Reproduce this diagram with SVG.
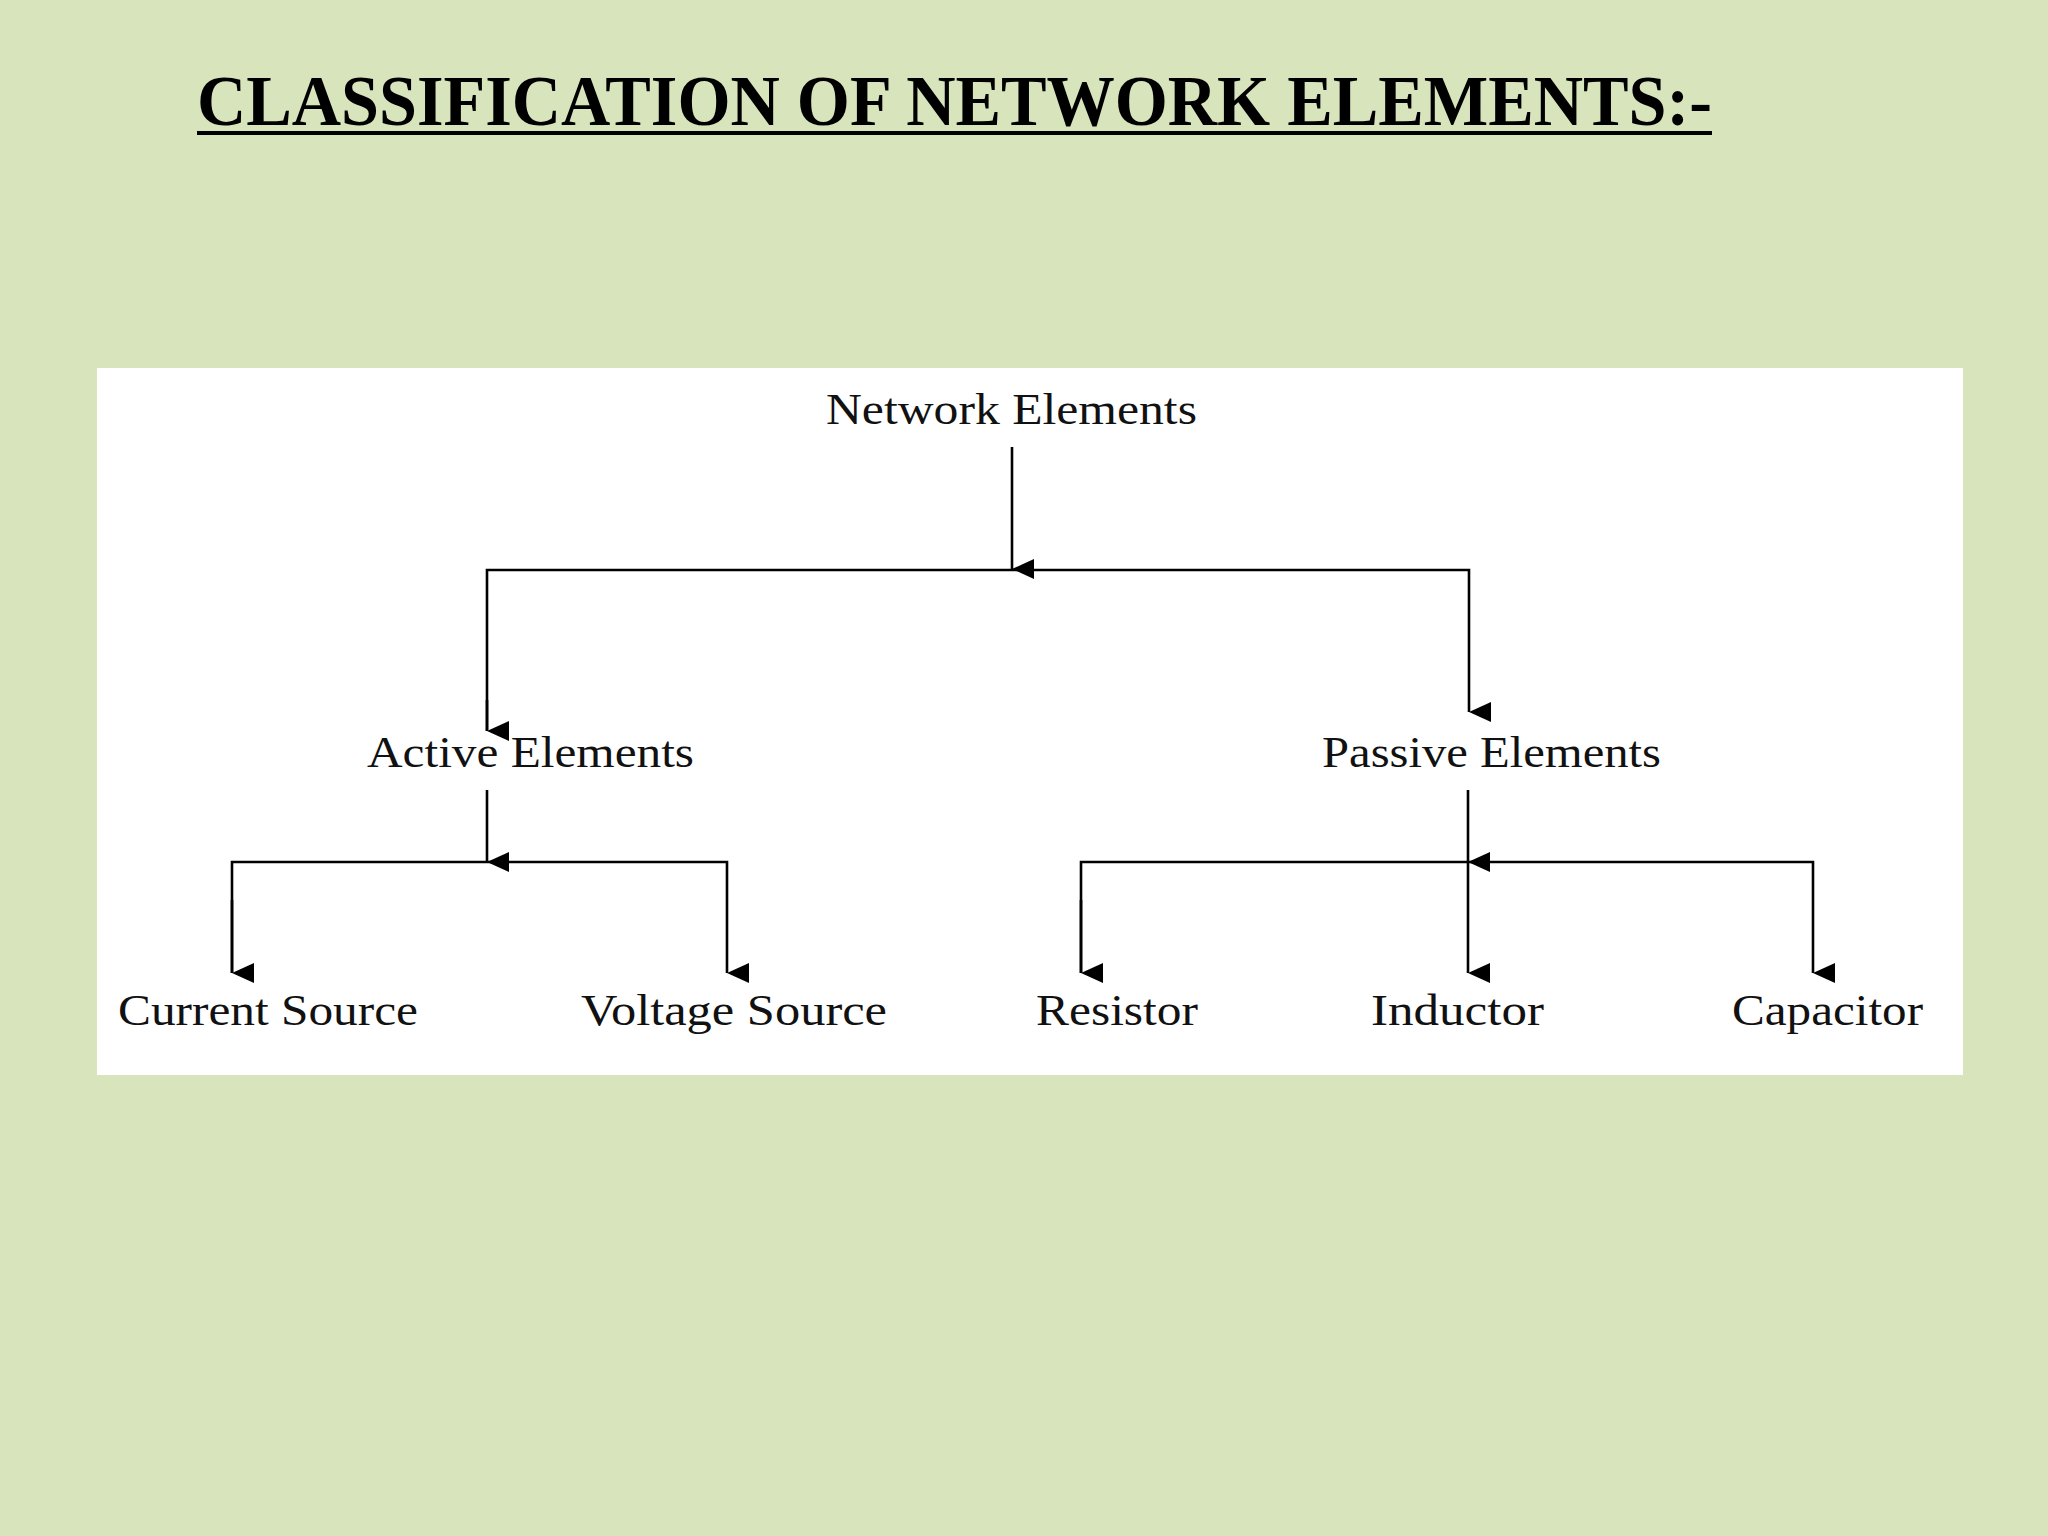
<svg xmlns="http://www.w3.org/2000/svg" width="2048" height="1536" viewBox="0 0 2048 1536">
<defs>
<style>
.lbl{font-family:"Liberation Serif","Times New Roman",serif;font-size:44px;fill:#111}
.ln{stroke:#000;stroke-width:2.6;fill:none}
</style>
<marker id="ah" markerUnits="userSpaceOnUse" markerWidth="20" markerHeight="22" refX="10" refY="22" orient="auto-start-reverse" viewBox="0 0 20 22"><path d="M0,0 L20,0 L10,22 Z" fill="#000" transform="rotate(0)"/></marker>
</defs>
<rect width="2048" height="1536" fill="#D8E4BC"/>
<text x="197" y="125" font-family="Liberation Serif,serif" font-weight="bold" font-size="72" textLength="1515" lengthAdjust="spacingAndGlyphs" fill="#000">CLASSIFICATION OF NETWORK ELEMENTS:-</text>
<line x1="197" y1="133" x2="1712" y2="133" stroke="#000" stroke-width="4"/>
<rect x="97" y="368" width="1866" height="707" fill="#fff"/>
<g id="n-root"><text class="lbl" x="826" y="424" textLength="371" lengthAdjust="spacingAndGlyphs">Network Elements</text></g>
<g id="n-active"><text class="lbl" x="367" y="767" textLength="327" lengthAdjust="spacingAndGlyphs">Active Elements</text></g>
<g id="n-passive"><text class="lbl" x="1322" y="767" textLength="339" lengthAdjust="spacingAndGlyphs">Passive Elements</text></g>
<g id="n-current"><text class="lbl" x="118" y="1025" textLength="300" lengthAdjust="spacingAndGlyphs">Current Source</text></g>
<g id="n-voltage"><text class="lbl" x="581" y="1025" textLength="306" lengthAdjust="spacingAndGlyphs">Voltage Source</text></g>
<g id="n-resistor"><text class="lbl" x="1036" y="1025" textLength="162" lengthAdjust="spacingAndGlyphs">Resistor</text></g>
<g id="n-inductor"><text class="lbl" x="1371" y="1025" textLength="173" lengthAdjust="spacingAndGlyphs">Inductor</text></g>
<g id="n-capacitor"><text class="lbl" x="1732" y="1025" textLength="191" lengthAdjust="spacingAndGlyphs">Capacitor</text></g>
<g id="connectors" class="ln">
<line x1="1012" y1="447" x2="1012" y2="569" marker-end="url(#ah)"/>
<polyline points="487,731 487,570 1469,570 1469,712" marker-end="url(#ah)"/>
<line x1="487" y1="700" x2="487" y2="731" marker-end="url(#ah)"/>
<line x1="487" y1="790" x2="487" y2="862" marker-end="url(#ah)"/>
<polyline points="232,973 232,862 727,862 727,973" marker-end="url(#ah)"/>
<line x1="232" y1="900" x2="232" y2="973" marker-end="url(#ah)"/>
<line x1="1468" y1="790" x2="1468" y2="862" marker-end="url(#ah)"/>
<polyline points="1081,973 1081,862 1813,862 1813,973" marker-end="url(#ah)"/>
<line x1="1081" y1="900" x2="1081" y2="973" marker-end="url(#ah)"/>
<line x1="1468" y1="862" x2="1468" y2="973" marker-end="url(#ah)"/>
</g>
</svg>
